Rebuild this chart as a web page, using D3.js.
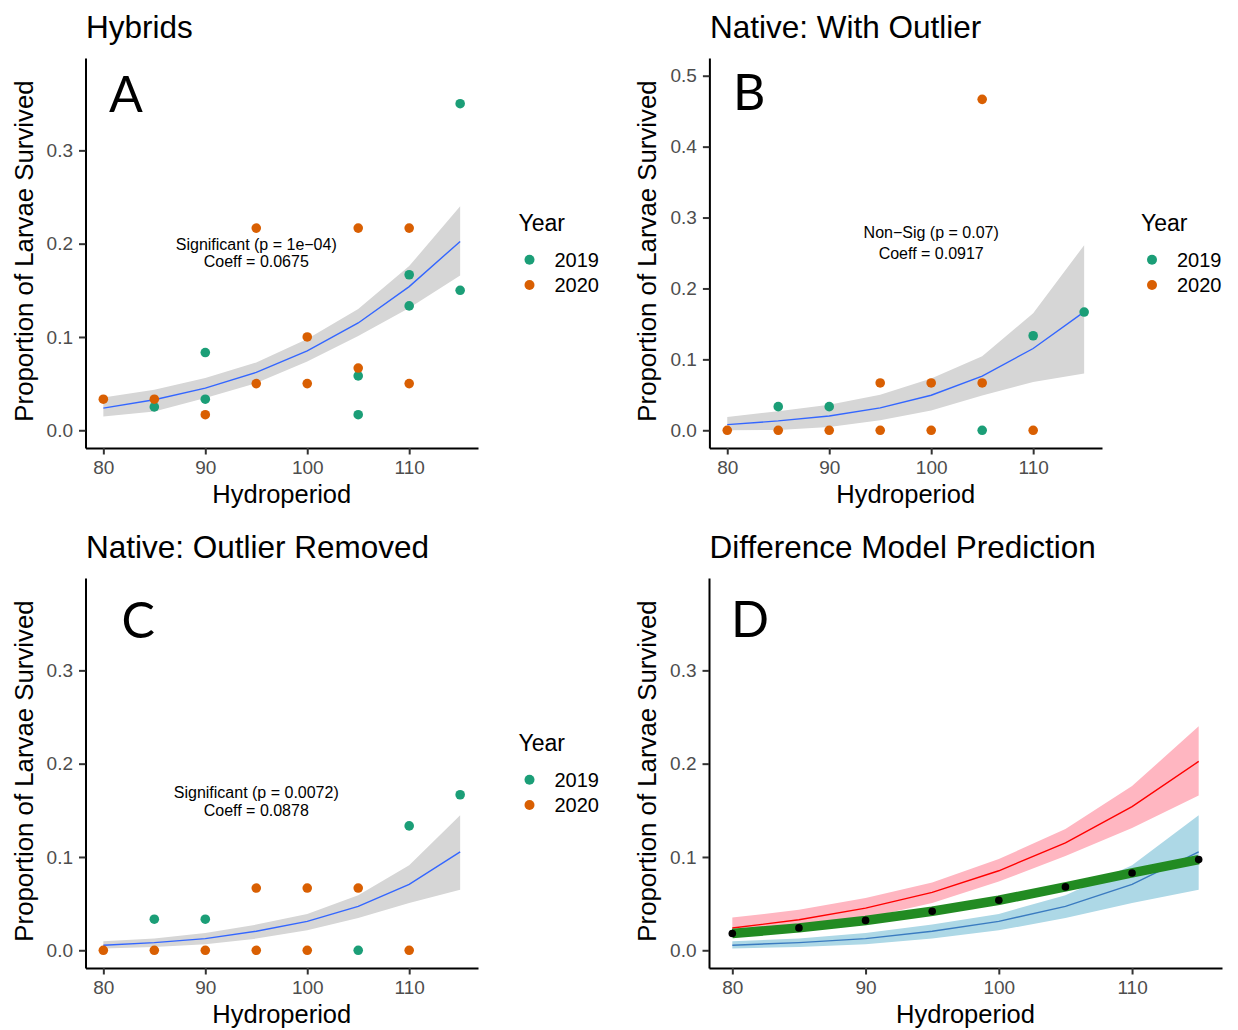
<!DOCTYPE html>
<html>
<head>
<meta charset="utf-8">
<script src="https://cdn.jsdelivr.net/npm/d3@7"></script>
<style>
  body { margin: 0; background: #fff; }
  text { font-family: "Liberation Sans", Arial, sans-serif; }
</style>
</head>
<body>
<svg id="chart" width="1238" height="1030"></svg>
<script>
// hydroperiod levels used by every fitted curve
const hydro = [80, 85, 90, 95, 100, 105, 110, 115];

// A: hybrids, observed points
const hybrid2019 = [[85, 0.025], [90, 0.0833], [90, 0.0333], [105, 0.0583], [105, 0.0167], [110, 0.1667], [110, 0.1333], [115, 0.35], [115, 0.15]];
const hybrid2020 = [[80, 0.0333], [85, 0.0333], [90, 0.0167], [95, 0.2167], [95, 0.05], [100, 0.1], [100, 0.05], [105, 0.2167], [105, 0.0667], [110, 0.2167], [110, 0.05]];
const hybridFit = [0.0238, 0.0327, 0.0452, 0.062, 0.0852, 0.115, 0.154, 0.2024];
const hybridLo = [0.0148, 0.020, 0.0345, 0.0506, 0.0737, 0.101, 0.131, 0.166];
const hybridHi = [0.035, 0.0434, 0.056, 0.0727, 0.0977, 0.130, 0.176, 0.240];

// B: native with outlier
const outlier2019 = [[85, 0.0333], [90, 0.0333], [105, 0], [110, 0.1333], [115, 0.1667]];
const outlier2020 = [[80, 0], [85, 0], [90, 0], [95, 0.0667], [95, 0], [100, 0.0667], [100, 0], [105, 0.4667], [105, 0.0667], [110, 0]];
const outlierFit = [0.008, 0.0132, 0.0202, 0.0315, 0.0494, 0.0763, 0.1153, 0.167];
const outlierLo = [0.0, 0.0005, 0.0047, 0.014, 0.028, 0.049, 0.068, 0.080];
const outlierHi = [0.0188, 0.0269, 0.036, 0.050, 0.073, 0.1045, 0.165, 0.261];

// C: native, outlier removed
const native2019 = [[85, 0.0333], [90, 0.0333], [105, 0], [110, 0.1333], [115, 0.1667]];
const native2020 = [[80, 0], [85, 0], [90, 0], [95, 0.0667], [95, 0], [100, 0.0667], [100, 0], [105, 0.0667], [110, 0]];
const nativeFit = [0.0054, 0.0082, 0.0125, 0.0204, 0.031, 0.047, 0.0707, 0.1054];
const nativeLo = [0.0018, 0.0036, 0.0064, 0.0125, 0.0214, 0.0346, 0.0507, 0.065];
const nativeHi = [0.0096, 0.0125, 0.0186, 0.0275, 0.039, 0.059, 0.091, 0.1446];

// D: difference model prediction
const diffPred = [0.0179, 0.024, 0.032, 0.0418, 0.0536, 0.0679, 0.0829, 0.0972];

const xTicks = [80, 90, 100, 110];
const yTicksSmall = [0, 0.1, 0.2, 0.3];
const yTicksB = [0, 0.1, 0.2, 0.3, 0.4, 0.5];
const years = ["2019", "2020"];
const yearColors = ["#1B9E77", "#D95F02"];

const svg = d3.select("#chart");
svg.append("rect").attr("width", 1238).attr("height", 1030).attr("fill", "#fff");

function makePanel(p) {
  const x = d3.scaleLinear().domain([78.25, 116.75]).range(p.xr);
  const y = d3.scaleLinear().domain(p.ydom).range([448 + p.oy, 58 + p.oy]);
  const g = svg.append("g");

  // title
  g.append("text")
    .attr("x", p.xr[0] + 0.5)
    .attr("y", 38 + p.oy)
    .style("font-size", "31.5px")
    .text(p.title);

  // axes
  const xAxis = d3.axisBottom(x).tickValues(xTicks).tickSize(6.5).tickSizeOuter(0).tickPadding(6).tickFormat(d3.format("d"));
  const yAxis = d3.axisLeft(y).tickValues(p.yticks).tickSize(6.5).tickSizeOuter(0).tickPadding(6).tickFormat(d3.format(".1f"));
  const gx = g.append("g").attr("transform", `translate(0, ${448 + p.oy})`).call(xAxis);
  const gy = g.append("g").attr("transform", `translate(${p.xr[0]}, 0)`).call(yAxis);
  [gx, gy].forEach((a) => {
    a.select(".domain").attr("stroke", "#000").attr("stroke-width", 2);
    a.selectAll(".tick line").attr("stroke", "#333").attr("stroke-width", 2);
    a.selectAll(".tick text")
      .attr("fill", "#4D4D4D")
      .style("font-size", "19px")
      .style("font-family", "Liberation Sans, Arial, sans-serif");
  });

  g.append("text")
    .attr("x", (p.xr[0] + p.xr[1]) / 2)
    .attr("y", 503.3 + p.oy)
    .attr("text-anchor", "middle")
    .style("font-size", "25.5px")
    .text("Hydroperiod");
  g.append("text")
    .attr("transform", `translate(${p.xr[0] - 53}, ${251 + p.oy}) rotate(-90)`)
    .attr("text-anchor", "middle")
    .style("font-size", "25.8px")
    .text("Proportion of Larvae Survived");

  // panel letter
  g.append("text")
    .attr("x", p.letterPos[0])
    .attr("y", p.letterPos[1])
    .style("font-family", "Lato, 'Open Sans', sans-serif")
    .style("font-size", "50px")
    .text(p.letter);

  const area = d3.area()
    .x((d, i) => x(hydro[i]))
    .y0((d) => y(d[0]))
    .y1((d) => y(d[1]));
  const line = d3.line()
    .x((d, i) => x(hydro[i]))
    .y((d) => y(d));

  p.bands.forEach((b) => {
    g.append("path")
      .datum(b.lo.map((v, i) => [v, b.hi[i]]))
      .attr("d", area)
      .attr("fill", b.fill);
  });
  p.bands.forEach((b) => {
    g.append("path")
      .datum(b.fit)
      .attr("d", line)
      .attr("fill", "none")
      .attr("stroke", b.stroke)
      .attr("stroke-width", 1.4);
  });

  if (p.diff) {
    g.append("path")
      .datum(p.diff)
      .attr("d", line)
      .attr("fill", "none")
      .attr("stroke", "#228B22")
      .attr("stroke-width", 9.5);
    g.selectAll(".diffpt")
      .data(p.diff)
      .enter()
      .append("circle")
      .attr("cx", (d, i) => x(hydro[i]))
      .attr("cy", (d) => y(d))
      .attr("r", 3.8)
      .attr("fill", "#000");
  }

  if (p.points) {
    p.points.forEach((pts, k) => {
      g.selectAll(".pt" + k)
        .data(pts)
        .enter()
        .append("circle")
        .attr("cx", (d) => x(d[0]))
        .attr("cy", (d) => y(d[1]))
        .attr("r", 4.8)
        .attr("fill", yearColors[k]);
    });
  }

  if (p.note) {
    p.note.lines.forEach((t, i) => {
      g.append("text")
        .attr("x", x(p.note.x))
        .attr("y", p.note.base[i])
        .attr("text-anchor", "middle")
        .style("font-size", "16px")
        .text(t);
    });
  }

  if (p.legend) {
    const [lx, ly] = p.legend;
    g.append("text").attr("x", lx).attr("y", ly).style("font-size", "23px").text("Year");
    years.forEach((yr, i) => {
      const cy = ly + 29 + i * 25.3;
      g.append("circle").attr("cx", lx + 11).attr("cy", cy).attr("r", 5).attr("fill", yearColors[i]);
      g.append("text").attr("x", lx + 36).attr("y", cy + 7).style("font-size", "20px").text(yr);
    });
  }
}

makePanel({
  title: "Hybrids", letter: "A", letterPos: [109, 111.7],
  xr: [85.5, 478], oy: 0, ydom: [-0.019, 0.399], yticks: yTicksSmall,
  bands: [{ lo: hybridLo, hi: hybridHi, fit: hybridFit, fill: "#D6D6D6", stroke: "#3366FF" }],
  points: [hybrid2019, hybrid2020],
  note: { x: 95, lines: ["Significant (p = 1e\u221204)", "Coeff = 0.0675"], base: [250, 267.3] },
  legend: [518.5, 230.7]
});

makePanel({
  title: "Native: With Outlier", letter: "B", letterPos: [733, 110],
  xr: [709.4, 1102], oy: 0, ydom: [-0.025, 0.525], yticks: yTicksB,
  bands: [{ lo: outlierLo, hi: outlierHi, fit: outlierFit, fill: "#D6D6D6", stroke: "#3366FF" }],
  points: [outlier2019, outlier2020],
  note: { x: 100, lines: ["Non\u2212Sig (p = 0.07)", "Coeff = 0.0917"], base: [238.3, 259] },
  legend: [1141, 230.7]
});

makePanel({
  title: "Native: Outlier Removed", letter: "C", letterPos: [121.5, 638],
  xr: [85.5, 478], oy: 520, ydom: [-0.019, 0.399], yticks: yTicksSmall,
  bands: [{ lo: nativeLo, hi: nativeHi, fit: nativeFit, fill: "#D6D6D6", stroke: "#3366FF" }],
  points: [native2019, native2020],
  note: { x: 95, lines: ["Significant (p = 0.0072)", "Coeff = 0.0878"], base: [798.3, 815.7] },
  legend: [518.5, 750.7]
});

makePanel({
  title: "Difference Model Prediction", letter: "D", letterPos: [731, 636.7],
  xr: [709, 1222], oy: 520, ydom: [-0.019, 0.399], yticks: yTicksSmall,
  bands: [
    { lo: hybridLo, hi: hybridHi, fit: hybridFit, fill: "#FFB6C1", stroke: "#FF0000" },
    { lo: nativeLo, hi: nativeHi, fit: nativeFit, fill: "#ADD8E6", stroke: "#3A7BC0" }
  ],
  diff: diffPred
});
</script>
</body>
</html>
